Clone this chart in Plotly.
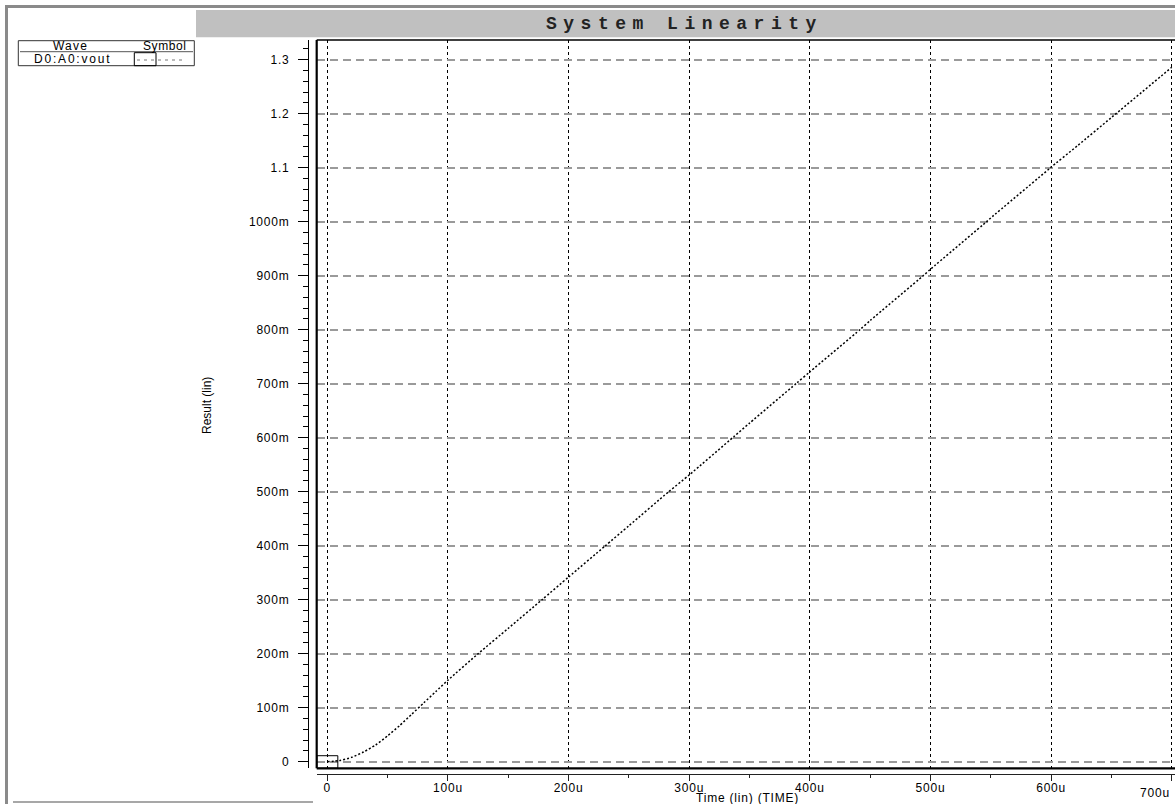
import plotly.graph_objects as go

# ---------------- data ----------------
time_us = [0, 10, 20, 30, 40, 50, 60, 70, 80, 90, 100, 125, 150, 178, 200, 230, 250,
           283, 300, 337, 350, 389, 400, 442, 450, 494, 500, 547, 550, 599, 600, 622,
           650, 700]
vout_mv = [0, 2, 8, 18, 31, 48, 67, 88, 109, 130, 151, 200, 247, 300, 342, 399, 437,
           500, 531, 602, 627, 701, 722, 801, 817, 900, 912, 1001, 1007, 1099, 1101, 1141,
           1193, 1286]

x_tick_vals = [0, 100, 200, 300, 400, 500, 600, 700]
x_tick_text = ["0", "100u", "200u", "300u", "400u", "500u", "600u", "700u"]
y_tick_vals = [0, 100, 200, 300, 400, 500, 600, 700, 800, 900, 1000, 1100, 1200, 1300]
y_tick_text = ["0", "100m", "200m", "300m", "400m", "500m", "600m", "700m", "800m",
               "900m", "1000m", "1.1", "1.2", "1.3"]

title_text = "System Linearity"
x_title = "Time (lin) (TIME)"
y_title = "Result (lin)"
legend_head = ["Wave", "Symbol"]
wave_name = "D0:A0:vout"

# ---------------- layout helpers ----------------
W, H = 1175, 804


def px(x):
    return x / W


def py(y):
    return 1 - y / H


X_RANGE = [-8.8, 702.7]
Y_RANGE = [-12.2, 1336.5]

PLOT_L, PLOT_T, PLOT_B = 316.7, 40.0, 768.3
TICK_FONT = dict(family="Liberation Sans, Arial, sans-serif", size=12, color="black")


def spaced(s, sp=0.8):
    if not s:
        return s
    return "<span style='letter-spacing:%spx'>%s</span>" % (sp, s)


fig = go.Figure()
fig.add_trace(go.Scatter(
    x=time_us, y=vout_mv, mode="lines", line_shape="spline",
    line=dict(color="black", width=1.5, dash="2px,2px", smoothing=0.6),
    hoverinfo="skip", showlegend=False,
))

xt = [spaced(t) for t in x_tick_text]
xt[-1] = ""  # last label drawn separately (shifted like the reference)

fig.update_layout(
    width=W, height=H,
    margin=dict(l=0, r=0, t=0, b=0),
    paper_bgcolor="white", plot_bgcolor="white",
    template="none",
    showlegend=False,
    xaxis=dict(
        domain=[px(PLOT_L), 1.0], range=X_RANGE, anchor="free", position=py(773.5),
        showline=True, linecolor="#222", linewidth=1,
        tickmode="array", tickvals=x_tick_vals, ticktext=xt,
        ticks="outside", ticklen=6, tickwidth=1, tickcolor="#222",
        tickfont=TICK_FONT, ticklabelstandoff=-3,
        minor=dict(tickmode="linear", tick0=0, dtick=50, ticks="outside", ticklen=3,
                   tickcolor="#222", showgrid=False),
        showgrid=True, gridcolor="black", gridwidth=1, griddash="3px,3px",
        zeroline=False, automargin=False, fixedrange=True,
    ),
    yaxis=dict(
        domain=[py(PLOT_B), py(PLOT_T)], range=Y_RANGE, anchor="free", position=px(308),
        showline=True, linecolor="black", linewidth=1,
        tickmode="array", tickvals=y_tick_vals, ticktext=[spaced(t) for t in y_tick_text],
        ticks="outside", ticklen=10, tickwidth=1, tickcolor="black",
        tickfont=TICK_FONT, ticklabelstandoff=6,
        minor=dict(tickmode="linear", tick0=0, dtick=20, ticks="outside", ticklen=5,
                   tickcolor="black", showgrid=False),
        showgrid=True, gridcolor="#9a9a9a", gridwidth=1.5, griddash="8px,5px",
        zeroline=False, automargin=False, fixedrange=True,
    ),
)

shapes = []
# outer gray frame pieces
shapes.append(dict(type="rect", xref="paper", yref="paper", x0=px(5), x1=px(8), y0=0, y1=py(5),
                   fillcolor="#8a8a8a", line=dict(width=0)))
shapes.append(dict(type="rect", xref="paper", yref="paper", x0=px(5), x1=1, y0=py(8), y1=py(5),
                   fillcolor="#8a8a8a", line=dict(width=0)))
shapes.append(dict(type="line", xref="paper", yref="paper", x0=px(13), x1=px(313), y0=py(802),
                   y1=py(802), line=dict(color="#8a8a8a", width=1.5)))
# title bar
shapes.append(dict(type="rect", xref="paper", yref="paper", x0=px(196), x1=1, y0=py(37.3),
                   y1=py(10), fillcolor="#c0c0c0", line=dict(width=0)))
# plot frame
shapes.append(dict(type="line", xref="x domain", yref="y domain", x0=0, x1=0, y0=0, y1=1,
                   line=dict(color="black", width=2.2)))
shapes.append(dict(type="line", xref="x domain", yref="y domain", x0=0, x1=1, y0=0, y1=0,
                   line=dict(color="black", width=2.2)))
shapes.append(dict(type="line", xref="x domain", yref="y domain", x0=0, x1=1, y0=1, y1=1,
                   line=dict(color="black", width=1.5)))
# symbol box at the first data point
shapes.append(dict(type="rect", xref="x", yref="y",
                   xsizemode="pixel", xanchor=time_us[0], x0=-10.5, x1=10.5,
                   ysizemode="pixel", yanchor=vout_mv[0], y0=-6.5, y1=6.0,
                   line=dict(color="black", width=1), fillcolor="rgba(0,0,0,0)"))
# legend table
shapes.append(dict(type="rect", xref="paper", yref="paper", x0=px(18.3), x1=px(194.3),
                   y0=py(65.7), y1=py(40.7), line=dict(color="#333", width=1)))
shapes.append(dict(type="line", xref="paper", yref="paper", x0=px(20), x1=px(193),
                   y0=py(51.7), y1=py(51.7), line=dict(color="#555", width=1)))
shapes.append(dict(type="rect", xref="paper", yref="paper", x0=px(134.3), x1=px(156),
                   y0=py(65.7), y1=py(52.7), line=dict(color="black", width=1)))
shapes.append(dict(type="line", xref="paper", yref="paper", x0=px(137), x1=px(185),
                   y0=py(60), y1=py(60), line=dict(color="#777", width=1, dash="3px,4px")))
fig.update_layout(shapes=shapes)

LEG_FONT = dict(family="Liberation Sans, Arial, sans-serif", size=12, color="black")
annotations = [
    dict(text="<b>" + "<span style='letter-spacing:6.5px'>%s</span>" % title_text + "</b>",
         x=px(684), y=py(23.7), xref="paper", yref="paper", showarrow=False,
         xanchor="center", yanchor="middle",
         font=dict(family="Liberation Mono, Courier New, monospace", size=18, color="#222")),
    dict(text=spaced(x_title, 0.8), x=px(747), y=py(797.5), xref="paper", yref="paper",
         showarrow=False, xanchor="center", yanchor="middle", font=TICK_FONT),
    dict(text=y_title, x=px(207), y=py(406), xref="paper", yref="paper", showarrow=False,
         textangle=-90, xanchor="center", yanchor="middle",
         font=dict(family="Liberation Sans Narrow, Liberation Sans, Arial", size=12,
                   color="black")),
    dict(text=spaced(x_tick_text[-1]), x=x_tick_vals[-1], y=py(793), xref="x", yref="paper",
         showarrow=False, xanchor="right", yanchor="middle", font=TICK_FONT),
    dict(text=spaced(legend_head[0], 1.2), x=px(70), y=py(46.3), xref="paper", yref="paper",
         showarrow=False, xanchor="center", yanchor="middle", font=LEG_FONT),
    dict(text=spaced(legend_head[1], 0.6), x=px(165), y=py(46.3), xref="paper", yref="paper",
         showarrow=False, xanchor="center", yanchor="middle", font=LEG_FONT),
    dict(text=spaced(wave_name, 1.8), x=px(72), y=py(59), xref="paper", yref="paper",
         showarrow=False, xanchor="center", yanchor="middle", font=LEG_FONT),
]
fig.update_layout(annotations=annotations)

fig.write_html("out.html", include_plotlyjs=True, config={"displayModeBar": False},
               post_script="document.body.style.margin='0';document.body.style.overflow='hidden';")
